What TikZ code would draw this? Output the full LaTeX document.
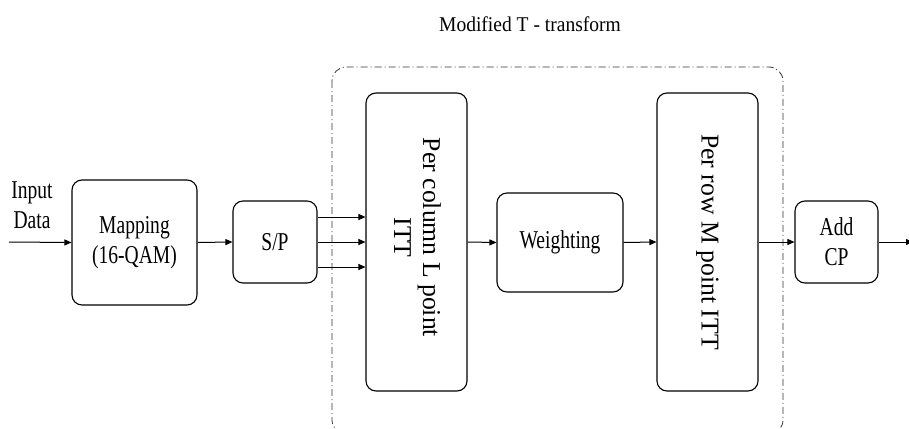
\documentclass[tikz,border=0pt]{standalone}
\usepackage{fontspec}
\setmainfont{Liberation Serif}
\usetikzlibrary{arrows.meta}
% narrow setting for the horizontal labels
\newcommand{\narrowtxt}[1]{\scalebox{0.76}[1]{#1}}
\begin{document}
\begin{tikzpicture}[x=1pt,y=-1pt,
  block/.style={draw, line width=1.1pt, rounded corners=10pt, inner sep=0pt,
                align=center, font=\fontsize{25.7}{30}\selectfont},
  flow/.style={line width=1pt, -{Triangle[length=7pt,width=6pt]}},
  vtext/.style={rotate=-90, align=center, font=\fontsize{25.7}{29}\selectfont}]
\useasboundingbox (0,0) rectangle (909,428);

% outer dash-dot frame of the modified transform
\draw[line width=0.8pt, black!80, rounded corners=14pt,
      dash pattern=on 7pt off 3pt on 1pt off 3pt]
  (332,67) rectangle (783,434);
\node[font=\fontsize{21}{24}\selectfont] (title) at (530,24) {\scalebox{0.93}[1]{Modified T - transform}};

% processing blocks
\node[block, minimum width=125pt, minimum height=125pt] (map) at (134.5,242.5) {\narrowtxt{Mapping}\\\narrowtxt{(16-QAM)}};
\node[block, minimum width=84pt, minimum height=82pt] (sp) at (275,242) {\narrowtxt{S/P}};
\node[block, minimum width=101pt, minimum height=298pt] (col) at (416.5,242) {};
\node[vtext] at (417.5,237.5) {Per column L point\\ITT};
\node[block, minimum width=126pt, minimum height=99pt] (wgt) at (560,242.5) {\narrowtxt{Weighting}};
\node[block, minimum width=101pt, minimum height=298pt] (row) at (707.5,242) {};
\node[vtext] at (row.center) {Per row M point ITT};
\node[block, minimum width=83pt, minimum height=82pt] (cp) at (836.5,242) {\narrowtxt{Add}\\\narrowtxt{CP}};

% input and output
\node[align=center, font=\fontsize{25.7}{30}\selectfont] (in) at (32,205) {\narrowtxt{Input}\\\narrowtxt{Data}};
\coordinate (src) at (9,242);
\coordinate (dst) at (913,242);

% connectors
\draw[flow] (src) -- (map.west);
\draw[flow] (map.east) -- (sp.west);
\draw[flow] ([yshift=-25pt]sp.east) -- ([yshift=-25pt]sp.east -| col.west);
\draw[flow] (sp.east) -- (col.west);
\draw[flow] ([yshift=25pt]sp.east) -- ([yshift=25pt]sp.east -| col.west);
\draw[flow] (col.east) -- (wgt.west);
\draw[flow] (wgt.east) -- (row.west);
\draw[flow] (row.east) -- (cp.west);
\draw[flow] (cp.east) -- (dst);
\end{tikzpicture}
\end{document}
